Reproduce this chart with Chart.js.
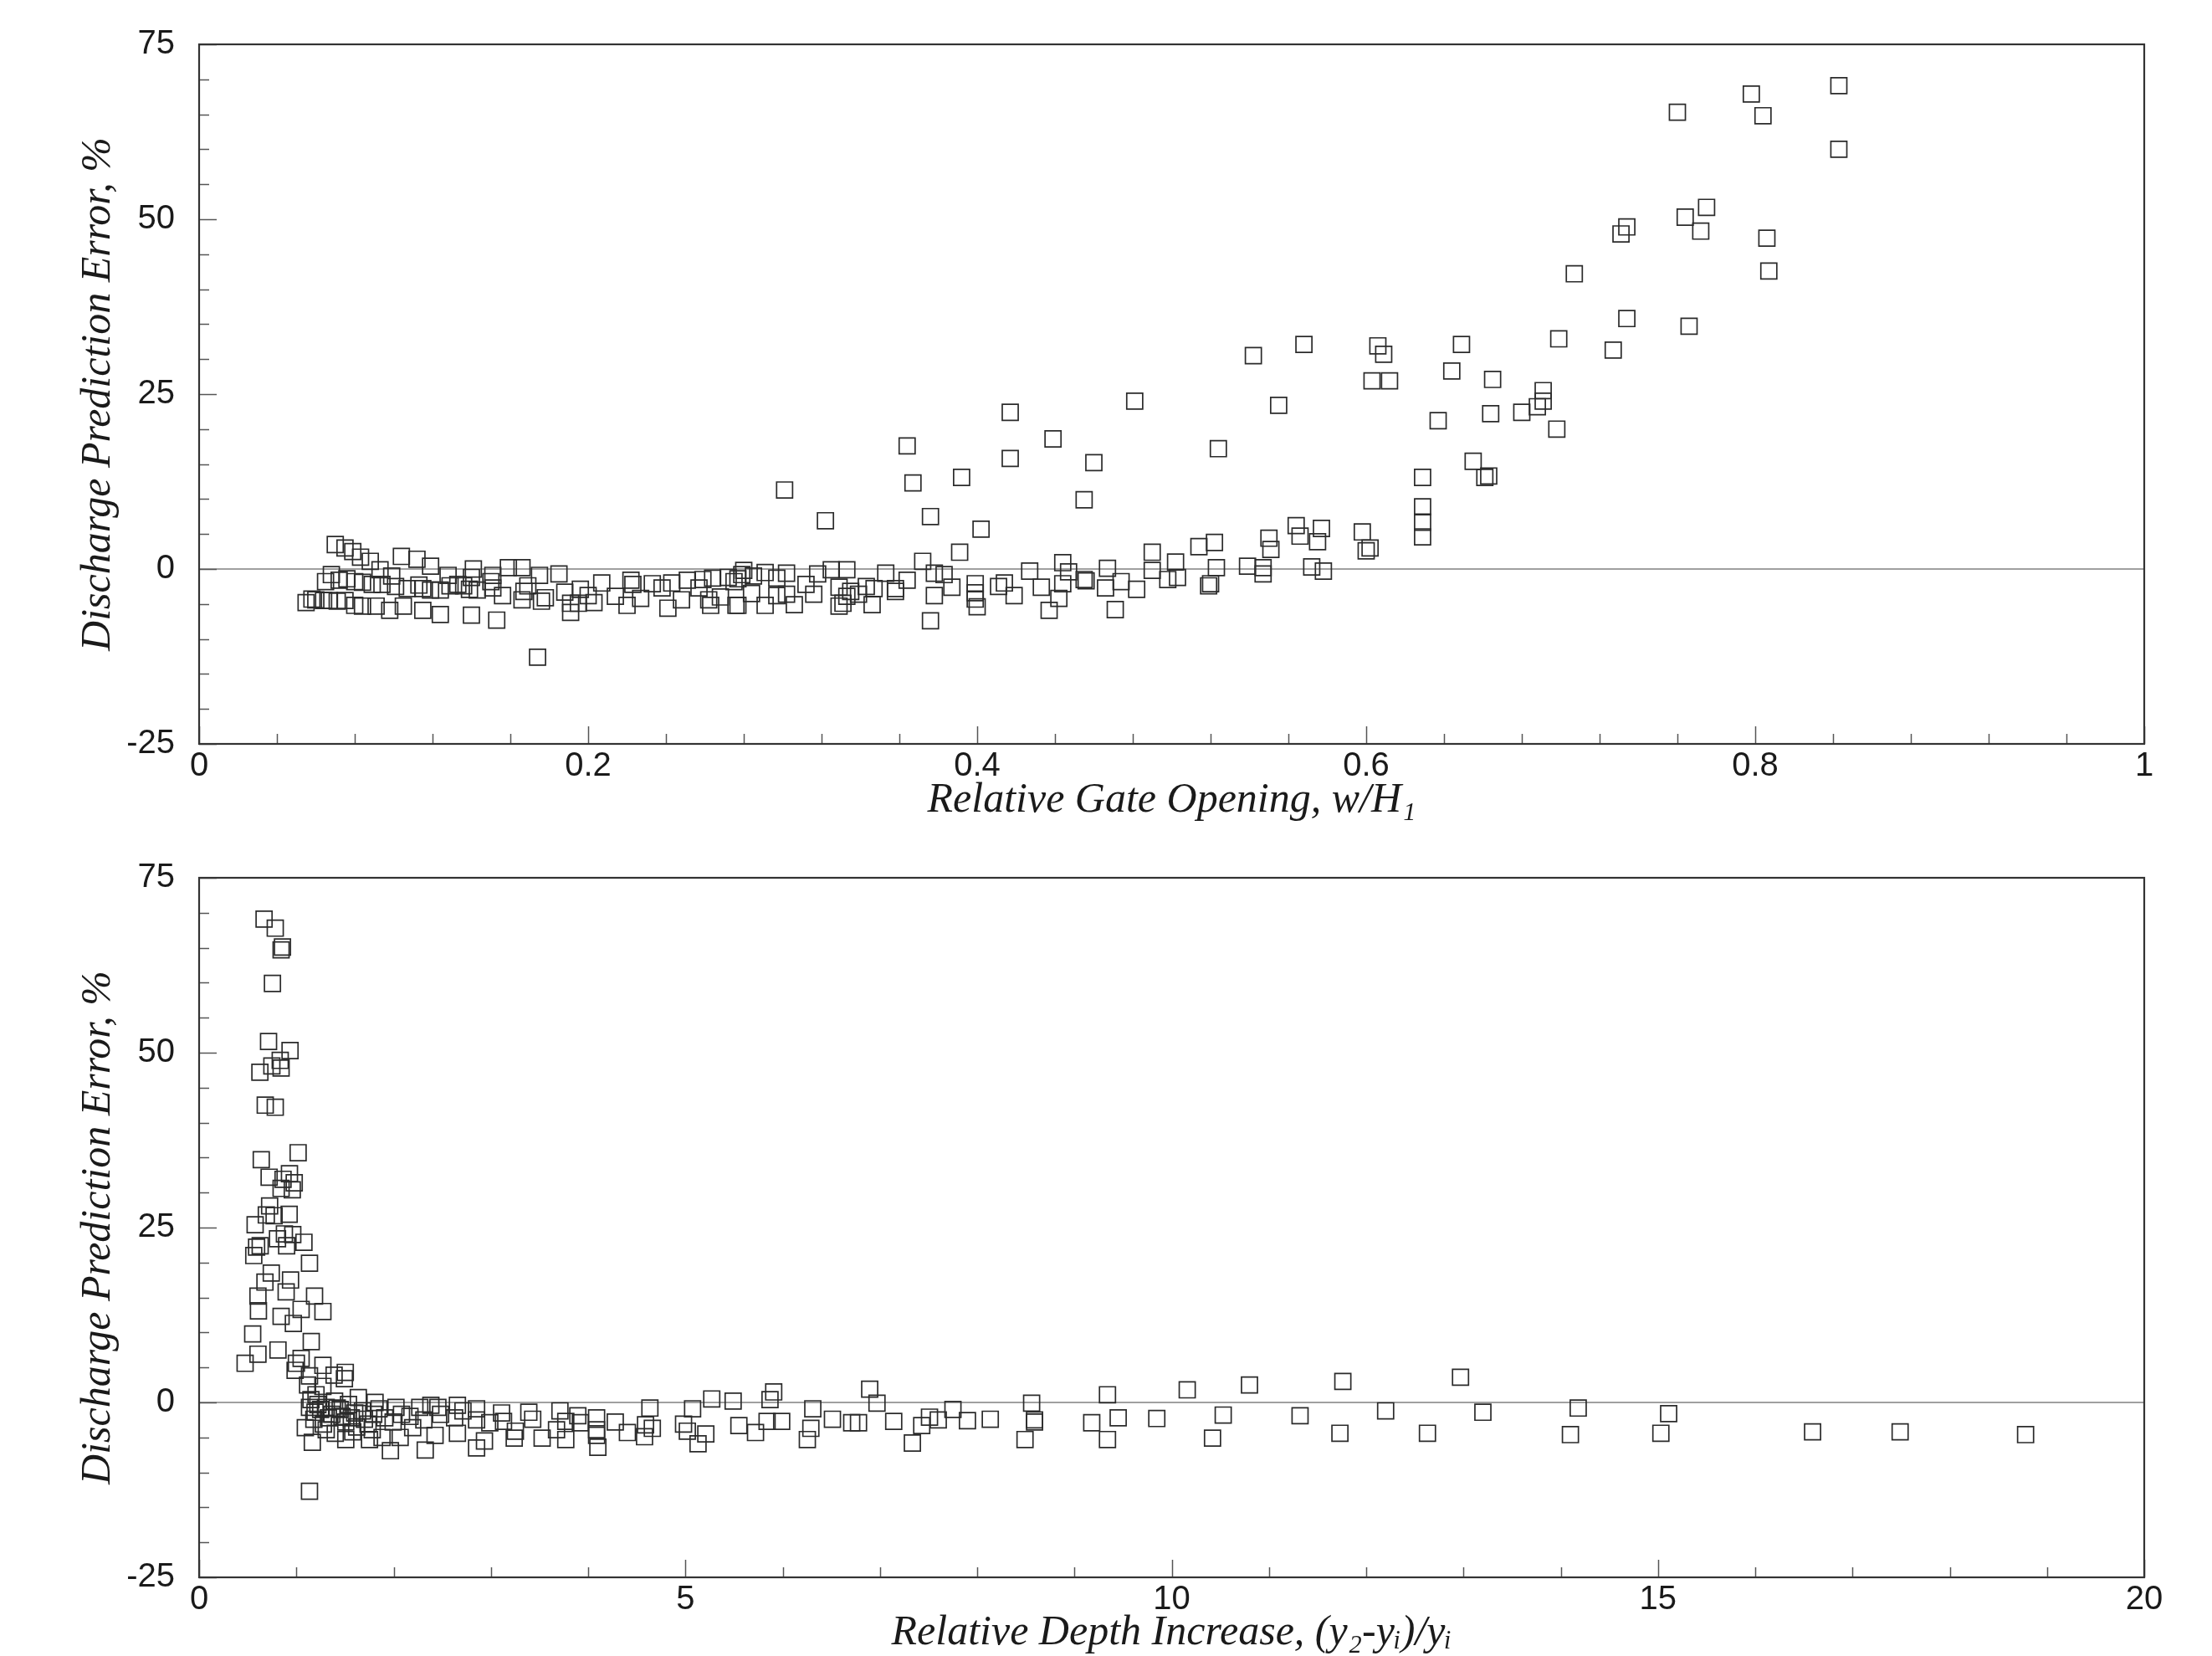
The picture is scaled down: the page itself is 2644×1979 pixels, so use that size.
<!DOCTYPE html>
<html>
<head>
<meta charset="utf-8">
<title>Discharge prediction error</title>
<script src="https://cdn.jsdelivr.net/npm/chart.js@4.4.1/dist/chart.umd.min.js"></script>
<style>
	html, body { margin: 0; padding: 0; background: #fff; }
	#wrap { position: relative; width: 2644px; height: 1979px; }
	canvas { position: absolute; left: 0; }
</style>
</head>
<body>
<div id="wrap">
	<canvas id="gateChart" width="2644" height="990" style="top:0px;width:2644px;height:990px"></canvas>
	<canvas id="depthChart" width="2644" height="989" style="top:990px;width:2644px;height:989px"></canvas>
</div>
<script>
// Discharge prediction error (%) against relative gate opening (top)
// and against relative depth increase (bottom).

// ---- top panel: w/H1 ----
var gateX = [
	0.070, 0.075, 0.079, 0.083, 0.088, 0.093, 0.099, 0.104, 0.112, 0.119,
	0.068, 0.065, 0.072, 0.076, 0.080, 0.084, 0.089, 0.094, 0.101, 0.107,
	0.113, 0.115, 0.119, 0.124, 0.128, 0.129, 0.133, 0.136, 0.139, 0.141,
	0.140, 0.143, 0.151, 0.150, 0.151, 0.156, 0.159, 0.166, 0.167, 0.169,
	0.175, 0.178, 0.185, 0.188, 0.196, 0.200, 0.203, 0.207, 0.214, 0.222,
	0.223, 0.220, 0.227, 0.233, 0.238, 0.241, 0.243, 0.248, 0.251, 0.257,
	0.259, 0.264, 0.262, 0.263, 0.268, 0.272, 0.275, 0.276, 0.279,
	0.055, 0.058, 0.060, 0.064, 0.067, 0.071, 0.075, 0.080, 0.084, 0.091,
	0.098, 0.105, 0.115, 0.124, 0.140, 0.153, 0.174, 0.191, 0.191, 0.166,
	0.176, 0.195,
	0.280, 0.277, 0.277, 0.285, 0.291, 0.297, 0.302, 0.284, 0.297, 0.302,
	0.291, 0.306, 0.312, 0.316, 0.318, 0.325, 0.333, 0.329, 0.335, 0.333,
	0.329, 0.331, 0.339, 0.343, 0.347, 0.346, 0.353, 0.358, 0.358, 0.364,
	0.372, 0.378, 0.383, 0.378, 0.387, 0.376, 0.399, 0.399, 0.399, 0.400,
	0.411, 0.414, 0.419, 0.427, 0.433, 0.437, 0.442, 0.444, 0.447, 0.444,
	0.455, 0.456, 0.467, 0.466, 0.471, 0.474, 0.482, 0.490, 0.490, 0.498,
	0.502, 0.503, 0.514, 0.522, 0.519, 0.520, 0.523, 0.539, 0.547, 0.547,
	0.550, 0.551, 0.564, 0.566, 0.577, 0.575, 0.572, 0.578,
	0.301, 0.322, 0.364, 0.367, 0.376, 0.392, 0.391, 0.402, 0.417, 0.417,
	0.439, 0.460, 0.455, 0.481, 0.524, 0.542, 0.555, 0.568, 0.598, 0.600,
	0.602, 0.603, 0.606, 0.609, 0.612, 0.629, 0.629, 0.629, 0.629, 0.637,
	0.644, 0.649, 0.655, 0.661, 0.663, 0.664, 0.665, 0.680, 0.688, 0.691,
	0.691, 0.698, 0.699, 0.707, 0.727, 0.731, 0.734, 0.734, 0.760, 0.764,
	0.766, 0.772, 0.775, 0.798, 0.804, 0.806, 0.807, 0.843, 0.843
];
var gateErr = [
	3.5, 3.0, 2.5, 1.7, 1.1, -0.1, -1.0, 1.8, 1.4, 0.4,
	-0.8, -1.8, -1.6, -1.4, -1.8, -1.9, -2.2, -2.2, -2.5, -2.8,
	-2.3, -2.8, -3.0, -3.0, -0.9, -2.4, -2.2, -2.4, -2.9, 0.0,
	-1.2, -3.0, -0.9, -1.8, -2.7, -3.8, 0.2, 0.2, -3.2, -2.4,
	-0.9, -4.1, -0.7, -3.3, -2.9, -3.8, -4.8, -2.0, -3.9, -1.6,
	-2.2, -5.2, -4.2, -2.1, -2.7, -5.6, -2.0, -4.4, -1.6, -2.7,
	-1.5, -1.3, -4.4, -5.2, -4.0, -1.2, -1.8, -5.2, -0.8,
	-4.8, -4.3, -4.4, -4.5, -4.5, -4.6, -4.5, -5.2, -5.3, -5.3,
	-5.9, -5.3, -5.9, -6.5, -6.6, -7.3, -12.6, -6.2, -4.9, -4.4,
	-4.6, -4.9,
	-0.2, -1.4, -5.2, -1.0, -0.5, -1.3, -0.6, -3.5, -3.8, -3.6,
	-5.2, -5.1, -2.2, -3.6, -0.7, -0.1, -0.1, -2.6, -3.2, -3.9,
	-5.3, -4.9, -3.6, -2.5, -2.8, -5.1, -0.6, -2.8, -3.2, -1.6,
	1.1, -0.6, -0.8, -3.8, -2.6, -7.4, -2.1, -3.4, -4.3, -5.4,
	-2.5, -2.0, -3.8, -0.3, -2.6, -5.9, -4.2, 0.9, -0.4, -2.1,
	-1.5, -1.7, 0.1, -2.7, -5.8, -1.8, -2.9, 2.4, -0.2, -1.5,
	1.0, -1.2, 3.2, 3.8, -2.4, -2.1, 0.2, 0.4, 0.2, -0.7,
	4.4, 2.8, 6.2, 4.7, 5.8, 3.9, 0.3, -0.3,
	11.3, 6.9, 17.6, 12.3, 7.5, 13.1, 2.4, 5.7, 22.4, 15.8,
	18.6, 15.2, 9.9, 24.0, 17.2, 30.5, 23.4, 32.1, 5.3, 2.6,
	3.0, 26.9, 31.9, 30.7, 26.9, 13.1, 8.9, 6.7, 4.6, 21.2,
	28.3, 32.1, 15.4, 13.1, 13.3, 22.2, 27.1, 22.4, 23.2, 25.5,
	24.0, 20.0, 32.9, 42.2, 31.3, 47.9, 48.9, 35.8, 65.3, 50.3,
	34.7, 48.3, 51.7, 67.9, 64.8, 47.3, 42.6, 69.1, 60.0
];

// ---- bottom panel: (y2-yi)/yi ----
var depthX = [
	0.668, 0.783, 0.857, 0.843, 0.754, 0.714, 0.935, 0.834, 0.748, 0.843,
	0.625, 0.680, 0.783, 1.018, 0.639, 0.929, 0.720, 0.863, 0.978, 0.958,
	0.843, 0.725, 0.691, 0.771, 0.926, 0.576, 0.877, 0.963, 0.806, 0.900,
	1.078, 0.628, 0.591, 0.562, 1.135, 0.742, 0.677, 0.940, 0.895, 0.605,
	1.187, 0.610, 1.049, 1.273, 0.843, 0.969, 0.551, 1.153, 0.811, 0.605,
	0.473, 1.049, 1.000, 1.273, 1.503, 0.987, 1.388, 1.135, 1.494, 1.115,
	1.273, 1.202,
	1.150, 1.221, 1.393, 1.536, 1.637, 1.809, 1.307, 1.450, 1.680, 1.795,
	1.135, 1.192, 1.365, 1.565, 1.909, 2.024, 2.168, 2.269, 2.383, 2.455,
	2.656, 2.713, 2.627, 2.483, 2.311, 2.081, 1.995, 1.737, 1.508, 1.278,
	1.092, 1.307, 1.508, 1.164, 1.752, 1.881, 2.067, 1.967, 2.325, 2.426,
	2.656, 2.196, 1.780, 1.135, 1.250, 1.330, 1.420, 1.470, 1.600, 1.620,
	1.700, 1.850, 1.180, 1.400, 1.580,
	2.853, 2.853, 2.853, 2.934, 2.989, 3.110, 3.130, 3.252, 3.240, 3.390,
	3.430, 3.527, 3.675, 3.710, 3.770, 3.770, 3.894, 3.920, 4.087, 4.087,
	4.087, 4.100, 4.279, 4.404, 4.580, 4.635, 4.590, 4.660, 4.981, 5.020,
	5.074, 5.210, 5.130, 5.271, 5.491, 5.550, 5.721, 5.840, 5.870, 5.908,
	5.990, 6.254, 6.290, 6.310, 6.512, 6.710, 6.780, 6.895, 6.970, 7.142,
	7.334, 7.430, 7.510, 7.600, 7.751, 7.900, 8.135, 8.492, 8.560, 8.590,
	8.590, 9.178, 9.340, 9.340, 9.450, 9.847, 10.16, 10.42, 10.53, 10.80,
	11.32, 11.76, 11.73, 12.20, 12.63, 12.97, 13.20, 14.10, 14.18, 15.03,
	15.11, 16.59, 17.49, 18.78
];
var depthErr = [
	69.1, 67.8, 65.1, 64.7, 59.9, 51.6, 50.3, 48.9, 48.1, 47.8,
	47.2, 42.5, 42.2, 35.7, 34.7, 32.7, 32.2, 31.9, 31.4, 30.4,
	30.6, 28.1, 26.8, 26.7, 26.9, 25.4, 24.1, 24.0, 23.4, 22.4,
	22.9, 22.4, 22.2, 21.0, 19.9, 18.5, 17.2, 17.5, 15.8, 15.2,
	15.2, 13.1, 13.3, 13.0, 12.3, 11.3, 9.8, 8.7, 7.5, 6.9,
	5.6, 6.3, 5.6, 5.3, 4.3, 4.6, 3.9, 3.8, 3.4, 2.5,
	2.3, 1.1,
	0.4, -0.3, 0.2, -0.3, 0.7, 0.0, -0.7, -1.0, -1.2, -1.7,
	-0.7, -1.4, -1.7, -2.2, -2.2, -0.7, -2.0, -0.7, -0.4, -0.7,
	-0.4, -1.2, -2.2, -1.7, -2.5, -1.7, -2.8, -3.1, -2.8, -3.1,
	-3.6, -3.9, -5.3, -5.7, -5.3, -5.0, -5.0, -6.9, -6.8, -4.7,
	-4.4, -3.6, -3.9, -12.7, -1.0, -2.2, -0.8, -2.0, -1.5, -3.5,
	-2.4, -0.9, -2.4, -4.4, -4.2,
	-0.9, -2.5, -6.5, -5.5, -2.9, -1.5, -2.7, -4.1, -5.1, -1.4,
	-2.4, -5.1, -3.9, -1.2, -2.7, -5.3, -1.9, -2.9, -2.2, -3.9,
	-4.7, -6.4, -2.8, -4.3, -4.9, -0.8, -3.2, -3.7, -3.1, -4.1,
	-0.9, -4.5, -5.9, 0.5, 0.2, -3.3, -4.3, -2.7, 0.4, 1.5,
	-2.7, -5.3, -3.7, -0.9, -2.4, -2.9, -2.9, 1.9, -0.1, -2.7,
	-5.8, -3.3, -2.1, -2.5, -1.0, -2.6, -2.4, -5.3, -0.1, -2.5,
	-2.8, -2.9, 1.1, -5.3, -2.2, -2.3, 1.8, -5.1, -1.8, 2.5,
	-1.9, 3.0, -4.4, -1.2, -4.4, 3.6, -1.4, -4.6, -0.8, -4.4,
	-1.6, -4.2, -4.2, -4.6
];

// axis ticks
var errTicks = [-25, 0, 25, 50, 75];
var gateTicks = [0, 0.2, 0.4, 0.6, 0.8, 1];
var depthTicks = [0, 5, 10, 15, 20];

var tickFont = { family: '"Liberation Sans", Arial, sans-serif', size: 40 };
var titleFont = { family: '"Liberation Serif", "Times New Roman", serif', size: 50, style: 'italic', lineHeight: 1.1 };
var ink = '#2b2b2b';

// zero line, box and inward tick marks (major + minor), drawn off the chart's own scales
var framePlugin = {
	id: 'frame',
	beforeDatasetsDraw(chart) {
		let { ctx, chartArea, scales } = chart;
		let y0 = scales.y.getPixelForValue(0);
		ctx.save();
		ctx.strokeStyle = '#808080';
		ctx.lineWidth = 1.6;
		ctx.beginPath();
		ctx.moveTo(chartArea.left, y0);
		ctx.lineTo(chartArea.right, y0);
		ctx.stroke();
		ctx.restore();
	},
	afterDatasetsDraw(chart, args, opts) {
		let { ctx, chartArea } = chart;
		let xs = chart.scales.x, ys = chart.scales.y;
		let { left, right, top, bottom } = chartArea;
		ctx.save();
		ctx.strokeStyle = '#555';
		ctx.lineWidth = 1.5;
		// minor/major ticks on the x axis
		for (let i = 0; i <= opts.xCount; i++) {
			let v = xs.min + i * opts.xStep;
			let px = Math.round(xs.getPixelForValue(v)) + 0.5;
			let len = (i % opts.xEvery === 0) ? 21 : 12;
			ctx.beginPath();
			ctx.moveTo(px, bottom);
			ctx.lineTo(px, bottom - len);
			ctx.stroke();
		}
		// and on the y axis, every 5 %
		for (let i = 0; i <= 20; i++) {
			let v = ys.min + i * 5;
			let py = Math.round(ys.getPixelForValue(v)) + 0.5;
			let len = (i % 5 === 0) ? 21 : 12;
			ctx.beginPath();
			ctx.moveTo(left, py);
			ctx.lineTo(left + len, py);
			ctx.stroke();
		}
		ctx.strokeStyle = '#333';
		ctx.lineWidth = 2.2;
		ctx.strokeRect(left, top, right - left, bottom - top);
		ctx.restore();
	}
};

function makeChart(id, xs, ys, xMax, xTicks, xTitle, padTop, xAxisHeight, titleGap, minor) {
	let points = xs.map((x, i) => ({ x: x, y: ys[i] }));
	return new Chart(document.getElementById(id).getContext('2d'), {
		type: 'scatter',
		data: {
			datasets: [{
				data: points,
				pointStyle: 'rect',
				pointRadius: 13.5,
				pointHoverRadius: 13.5,
				borderColor: ink,
				borderWidth: 1.7,
				backgroundColor: 'rgba(0,0,0,0)'
			}]
		},
		options: {
			responsive: false,
			animation: false,
			devicePixelRatio: 1,
			events: [],
			layout: { padding: { left: 0, right: 81, top: padTop, bottom: 0 } },
			plugins: {
				legend: { display: false },
				tooltip: { enabled: false },
				frame: minor
			},
			scales: {
				x: {
					type: 'linear',
					min: 0,
					max: xMax,
					grid: { display: false, drawTicks: false },
					border: { display: false },
					afterBuildTicks: s => { s.ticks = xTicks.map(v => ({ value: v })); },
					afterFit: s => { s.height = xAxisHeight; },
					ticks: {
						color: '#1a1a1a', font: tickFont, padding: 3,
						maxRotation: 0, autoSkip: false,
						callback: v => String(v)
					},
					title: {
						display: true, text: xTitle, color: '#1a1a1a', font: titleFont,
						padding: { top: 0, bottom: titleGap }
					}
				},
				y: {
					type: 'linear',
					min: -25,
					max: 75,
					grid: { display: false, drawTicks: false },
					border: { display: false },
					afterBuildTicks: s => { s.ticks = errTicks.map(v => ({ value: v })); },
					afterFit: s => { s.width = 238; },
					ticks: {
						color: '#1a1a1a', font: tickFont, padding: 29,
						callback: v => String(v)
					},
					title: {
						display: true, text: 'Discharge Prediction Error, %', color: '#1a1a1a', font: titleFont,
						padding: { top: 90, bottom: 0 }
					}
				}
			}
		},
		plugins: [framePlugin]
	});
}

var gateChart = makeChart('gateChart', gateX, gateErr, 1, gateTicks,
	'Relative Gate Opening, w/H\u2081', 53, 101, 6, { xStep: 0.04, xCount: 25, xEvery: 5 });

var depthChart = makeChart('depthChart', depthX, depthErr, 20, depthTicks,
	'Relative Depth Increase, (y\u2082-y\u1D62)/y\u1D62', 59, 94, 0, { xStep: 1, xCount: 20, xEvery: 5 });
</script>
</body>
</html>
